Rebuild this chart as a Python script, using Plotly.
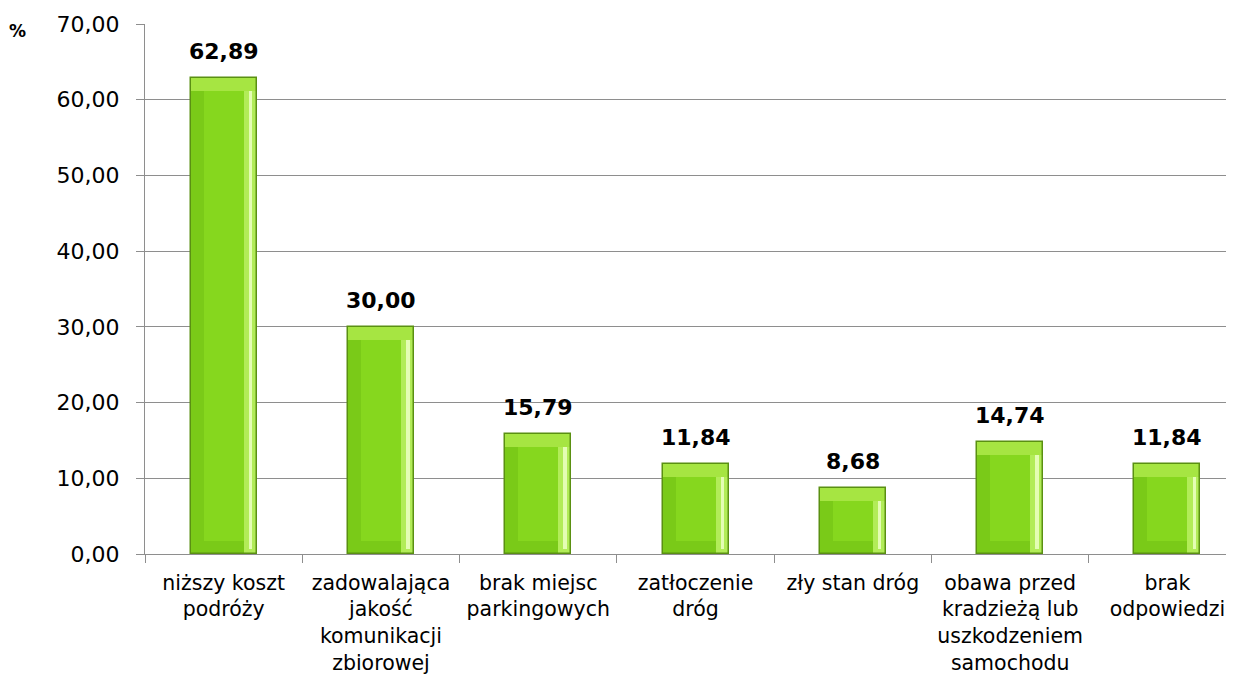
import plotly.graph_objects as go

categories = [
    "niższy koszt<br>podróży",
    "zadowalająca<br>jakość<br>komunikacji<br>zbiorowej",
    "brak miejsc<br>parkingowych",
    "zatłoczenie<br>dróg",
    "zły stan dróg",
    "obawa przed<br>kradzieżą lub<br>uszkodzeniem<br>samochodu",
    "brak<br>odpowiedzi",
]
values = [62.89, 30.00, 15.79, 11.84, 8.68, 14.74, 11.84]
y_ticks = [0, 10, 20, 30, 40, 50, 60, 70]

labels = [f"{v:.2f}".replace(".", ",") for v in values]

BW = 0.42      # bar width (category units)
BX = 0.083     # horizontal bevel thickness
BY = 1.7       # vertical bevel thickness (value units)

fig = go.Figure()

# base (left / bottom bevel tone)
fig.add_trace(go.Bar(x=categories, y=values, width=BW,
                     marker=dict(color="#7ACA18", line=dict(width=0)),
                     hoverinfo="skip", showlegend=False))
# top bevel
fig.add_trace(go.Bar(x=categories, y=[BY] * len(values),
                     base=[v - BY for v in values], width=BW,
                     marker=dict(color="#A6E542", line=dict(width=0)),
                     hoverinfo="skip", showlegend=False))
# right bevel
fig.add_trace(go.Bar(x=categories, y=[v - BY for v in values], width=BX,
                     offset=BW / 2 - BX,
                     marker=dict(color="#B2EC58", line=dict(width=0)),
                     hoverinfo="skip", showlegend=False))
# right highlight stripe
fig.add_trace(go.Bar(x=categories, y=[v - BY - 0.6 for v in values], width=0.022,
                     offset=BW / 2 - 0.05, base=[0.6] * len(values),
                     marker=dict(color="#E4FDB4", line=dict(width=0)),
                     hoverinfo="skip", showlegend=False))
# body
fig.add_trace(go.Bar(x=categories, y=[v - 2 * BY for v in values],
                     base=[BY] * len(values), width=BW - 2 * BX,
                     offset=-(BW / 2 - BX),
                     marker=dict(color="#86D71E", line=dict(width=0)),
                     hoverinfo="skip", showlegend=False))
# outline
fig.add_trace(go.Bar(x=categories, y=values, width=BW,
                     marker=dict(color="rgba(0,0,0,0)",
                                 line=dict(color="#5A9012", width=1.5)),
                     hoverinfo="skip", showlegend=False))

annotations = []
for c, v, t in zip(categories, values, labels):
    annotations.append(dict(x=c, y=v, text=f"<b>{t}</b>", showarrow=False,
                            xref="x", yref="y", yanchor="bottom", yshift=12,
                            font=dict(family="DejaVu Sans", size=22, color="#000000")))
annotations.append(dict(x=(17.5 - 145) / 1089, y=(554 - 31) / 530,
                        xref="paper", yref="paper", text="<b>%</b>",
                        xanchor="center", yanchor="middle",
                        showarrow=False, font=dict(family="DejaVu Sans", size=17, color="#000000")))

# page body has an 8px margin; size the figure so the plot lands where the reference has it
fig.update_layout(
    width=1226, height=669,
    margin=dict(l=137, r=0, t=16, b=123, autoexpand=False),
    barmode="overlay",
    bargap=0,
    plot_bgcolor="white", paper_bgcolor="white",
    separators=", ",
    font=dict(family="DejaVu Sans", color="#000000"),
    annotations=annotations,
    xaxis=dict(type="category", range=[-0.5, 6.423], showline=True,
               linecolor="#8E8E8E", linewidth=1, ticks="outside",
               tickson="boundaries", ticklen=8, tickcolor="#8E8E8E",
               showgrid=False, tickfont=dict(size=20.5, color="#000000"),
               ticklabelstandoff=10, automargin=False),
    yaxis=dict(range=[0, 70], tickvals=y_ticks, tickformat=".2f",
               showgrid=True, gridcolor="#8E8E8E", gridwidth=1,
               showline=True, linecolor="#8E8E8E", linewidth=1,
               ticks="outside", ticklen=8, tickcolor="#8E8E8E",
               zeroline=False, tickfont=dict(size=22, color="#000000"),
               ticklabelstandoff=12, automargin=False),
)

fig.write_html("out.html")
